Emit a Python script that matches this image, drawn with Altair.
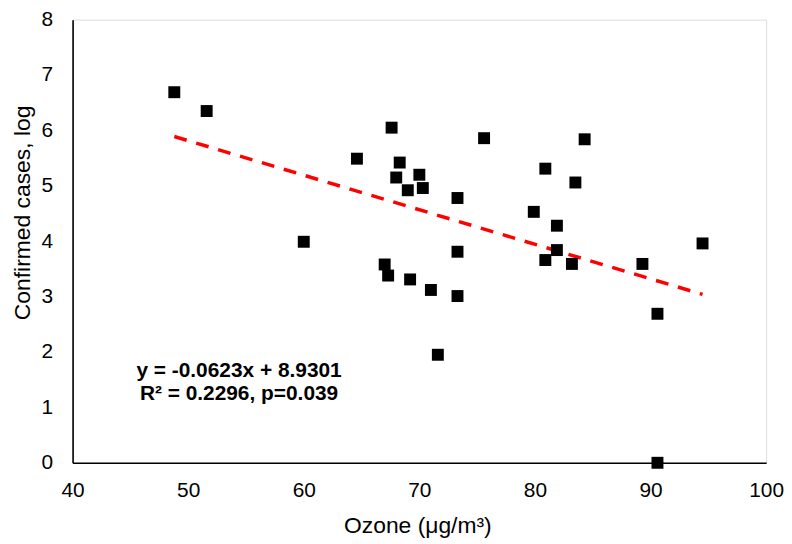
import altair as alt
import pandas as pd

# Data
ozone = [48.8, 51.6, 60.0, 64.6, 67.6, 67.0, 67.3, 68.3, 68.0, 69.0, 70.0, 70.3,
         69.2, 71.0, 71.6, 73.3, 73.3, 73.3, 75.6, 79.9, 80.9, 81.9, 81.9, 80.9,
         83.5, 84.3, 83.2, 89.3, 90.6, 90.6, 94.5]
cases = [6.69, 6.35, 3.99, 5.49, 6.05, 3.58, 3.38, 5.42, 5.15, 4.92, 5.20, 4.96,
         3.31, 3.12, 1.95, 4.78, 3.81, 3.01, 5.86, 4.53, 5.31, 4.28, 3.84, 3.66,
         5.06, 5.84, 3.59, 3.59, 2.69, 0.00, 3.96]

trend_x = [48.8, 94.5]
trend_y = [5.89, 3.04]

note_lines = ["y = -0.0623x  + 8.9301", "R² = 0.2296,  p=0.039"]
note_x = [54.4, 54.4]
note_y = [1.65, 1.24]

x_ticks = [40, 50, 60, 70, 80, 90, 100]
y_ticks = [0, 1, 2, 3, 4, 5, 6, 7, 8]

FONT = "Arial, Liberation Sans"

pts = pd.DataFrame({"ozone": ozone, "cases": cases})
trend = pd.DataFrame({"ozone": trend_x, "cases": trend_y})
notes = pd.DataFrame({"ozone": note_x, "cases": note_y, "txt": note_lines})

xscale = alt.Scale(domain=[40, 100], nice=False, zero=False)
yscale = alt.Scale(domain=[0, 8], nice=False, zero=False)

xaxis = alt.Axis(values=x_ticks, format="d", title="Ozone (μg/m³)", grid=False,
                 ticks=False, tickSize=0, labelPadding=28, labelBaseline="middle",
                 labelFontSize=21, labelFont=FONT, labelColor="#000000",
                 titleFontSize=23, titleFont=FONT, titleFontWeight="normal",
                 titleColor="#000000", titleX=347, titleY=63,
                 titleBaseline="middle", titleAnchor="middle",
                 domainColor="#000000", domainWidth=1.6, labelFlush=False)
yaxis = alt.Axis(values=y_ticks, format="d", title="Confirmed cases, log",
                 grid=False, ticks=False, tickSize=0, labelPadding=20,
                 labelFontSize=21, labelFont=FONT, labelColor="#000000",
                 titleFontSize=23, titleFont=FONT, titleFontWeight="normal",
                 titleColor="#000000", titleX=-50, titleY=194,
                 titleBaseline="middle", titleAnchor="middle", titleAngle=270,
                 domainColor="#000000", domainWidth=1.6, labelFlush=False)

line = alt.Chart(trend).mark_line(color="#ff0000", strokeWidth=3.5,
                                  strokeDash=[13, 10], strokeCap="butt").encode(
    x=alt.X("ozone:Q", scale=xscale, axis=xaxis),
    y=alt.Y("cases:Q", scale=yscale, axis=yaxis),
)

points = alt.Chart(pts).mark_point(shape="square", filled=True, size=144,
                                   color="#000000", opacity=1).encode(
    x=alt.X("ozone:Q", scale=xscale),
    y=alt.Y("cases:Q", scale=yscale),
)

text = alt.Chart(notes).mark_text(font=FONT, fontSize=21, fontWeight="bold",
                                  color="#000000", align="center",
                                  baseline="middle").encode(
    x=alt.X("ozone:Q", scale=xscale),
    y=alt.Y("cases:Q", scale=yscale),
    text="txt:N",
)

chart = (line + points + text).properties(
    width=698, height=446,
    autosize=alt.AutoSizeParams(type="none"),
    padding={"left": 65, "top": 10, "right": 18, "bottom": 76},
).configure_view(stroke="#000000", strokeWidth=1.2).configure(background="#ffffff")

chart.save("out.html", embed_options={"renderer": "svg", "actions": False})
